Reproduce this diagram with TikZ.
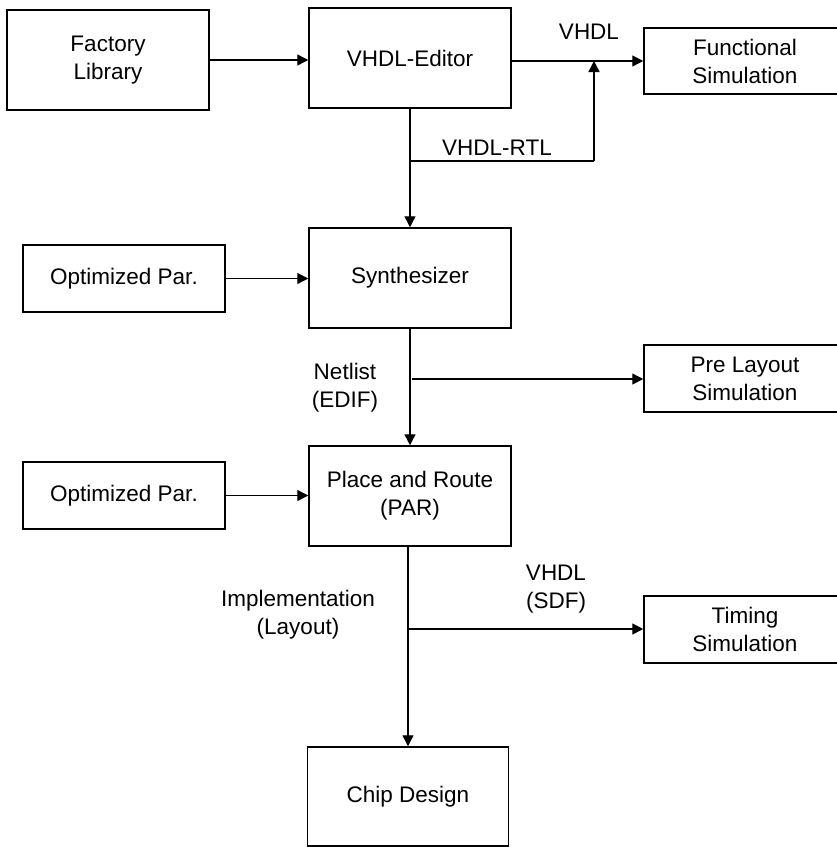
\documentclass[tikz,border=0pt]{standalone}
\usepackage{fontspec}
\setmainfont{Liberation Sans}
\usetikzlibrary{arrows.meta}
\begin{document}
\begin{tikzpicture}[x=1pt,y=-1pt,
  box/.style={draw, line width=1.5pt, minimum width=202pt, align=center, inner sep=0pt,
    font=\fontsize{22.5}{28}\selectfont},
  lbl/.style={align=center, inner sep=0pt, font=\fontsize{22.5}{28}\selectfont},
  arr/.style={line width=1.4pt, -{Triangle[length=11pt,width=11pt]}},
  ln/.style={line width=1.4pt}]
\useasboundingbox (0,0) rectangle (837,847);
\clip (0,0) rectangle (837,847);
\fill[white] (0,0) rectangle (837,847);
% boxes
\node[box, minimum height=100pt] (fac) at (108,60) {Factory\\Library};
\node[box, minimum height=100pt] (ed) at (410,58) {VHDL-Editor};
\node[box, minimum height=66pt] (fs) at (745,61) {Functional\\Simulation};
\node[box, minimum height=67pt] (op1) at (124,278.5) {Optimized Par.};
\node[box, minimum height=100pt] (syn) at (410,278) {Synthesizer};
\node[box, minimum height=67pt] (pl) at (745,378.5) {Pre Layout\\Simulation};
\node[box, minimum height=67pt] (op2) at (124,495.5) {Optimized Par.};
\node[box, minimum height=100pt] (par) at (410,496) {Place and Route\\(PAR)};
\node[box, minimum height=67pt] (ts) at (745,629.5) {Timing\\Simulation};
\node[box, minimum height=99pt, minimum width=201pt] (chip) at (408,796.5) {Chip Design};
% junction coordinates
\coordinate (j1) at (594,61);
\coordinate (b1) at (410,161);
\coordinate (b2) at (412,379);
\coordinate (b3) at (410,629);
% connectors
\draw[arr] (fac.east) -- (fac.east -| ed.west);
\draw[arr] (ed.east |- j1) -- (fs.west |- j1);
\draw[arr] (ed.south) -- (syn.north);
\draw[ln] (b1) -- (b1 -| j1);
\draw[arr] (b1 -| j1) -- (j1);
\draw[arr] (op1.east) -- (op1.east -| syn.west);
\draw[arr] (syn.south) -- (par.north);
\draw[arr] (b2) -- (b2 -| pl.west);
\draw[arr] (op2.east) -- (op2.east -| par.west);
\draw[arr] (par.south -| chip.north) -- (chip.north);
\draw[arr] (b3 -| chip.north) -- (b3 -| ts.west);
% labels
\node[lbl] (l1) at (589,32) {VHDL};
\node[lbl] (l2) at (497,148) {VHDL-RTL};
\node[lbl] (l3) at (345,388) {Netlist\\(EDIF)};
\node[lbl] (l4) at (556,589) {VHDL\\(SDF)};
\node[lbl] (l5) at (298,614.5) {Implementation\\(Layout)};
\end{tikzpicture}
\end{document}
